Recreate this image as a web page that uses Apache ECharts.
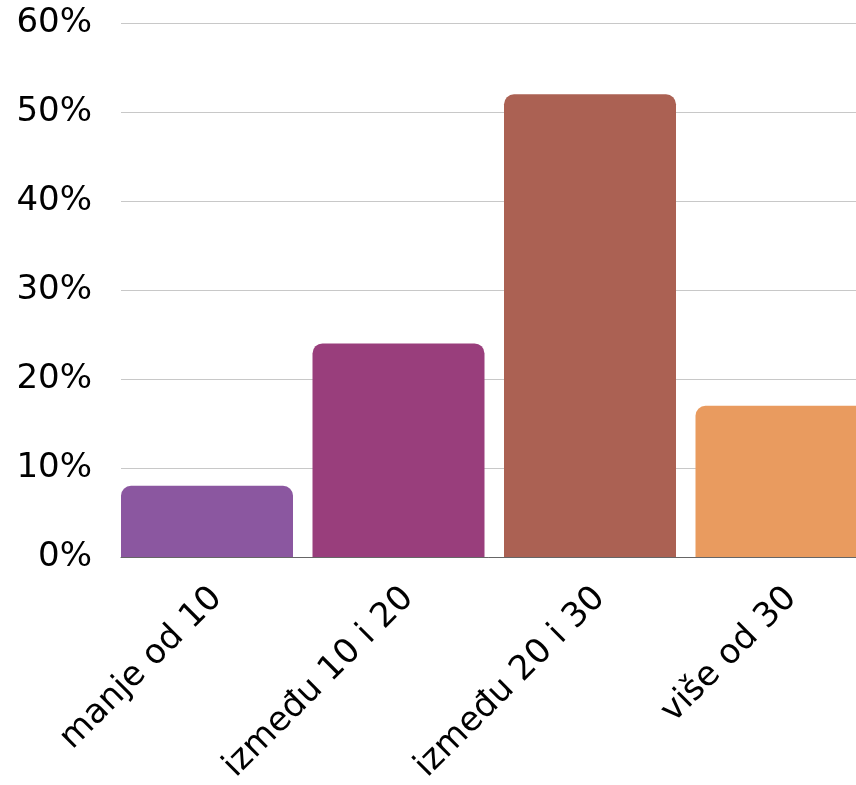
<!DOCTYPE html>
<html>
<head>
<meta charset="utf-8">
<script src="https://cdn.jsdelivr.net/npm/echarts@6/dist/echarts.min.js"></script>
<style>html,body{margin:0;padding:0;background:#fff}#c{width:856px;height:785px}</style>
</head>
<body>
<div id="c"></div>
<script>
const categories = ['manje od 10', 'između 10 i 20', 'između 20 i 30', 'više od 30'];
const values = [8, 24, 52, 17];
const barColors = ['#8B57A0', '#993E7C', '#AB6153', '#E99B5F'];
const yTicks = [0, 10, 20, 30, 40, 50, 60];

const FONT = 'DejaVu Sans';
const chart = echarts.init(document.getElementById('c'), null, {renderer: 'canvas'});
chart.setOption({
  animation: false,
  backgroundColor: '#ffffff',
  grid: {left: 121, top: 23, width: 766, height: 534, containLabel: false, outerBoundsMode: 'none'},
  xAxis: {
    type: 'category',
    data: categories,
    axisLine: {show: true, lineStyle: {color: '#666666', width: 1}},
    axisTick: {show: false},
    axisLabel: {rotate: 45, interval: 0, margin: 36, color: '#000', fontFamily: FONT, fontSize: 34, fontWeight: 500}
  },
  yAxis: {
    type: 'value',
    min: yTicks[0],
    max: yTicks[yTicks.length - 1],
    interval: 10,
    axisLine: {show: false},
    axisTick: {show: false},
    splitLine: {lineStyle: {color: '#c8c8c8', width: 1}},
    axisLabel: {formatter: '{value}%', margin: 29, color: '#000', fontFamily: FONT, fontSize: 34, fontWeight: 500}
  },
  series: [
    {
      type: 'bar',
      barWidth: 172,
      barGap: 0,
      data: values.map((v, i) => ({value: v, itemStyle: {color: barColors[i], borderRadius: [10, 10, 0, 0]}}))
    },
    {
      type: 'bar',
      barWidth: 19.5,
      barGap: 0,
      silent: true,
      itemStyle: {color: 'rgba(0,0,0,0)'},
      data: values.map(() => 0)
    }
  ]
});
</script>
</body>
</html>
